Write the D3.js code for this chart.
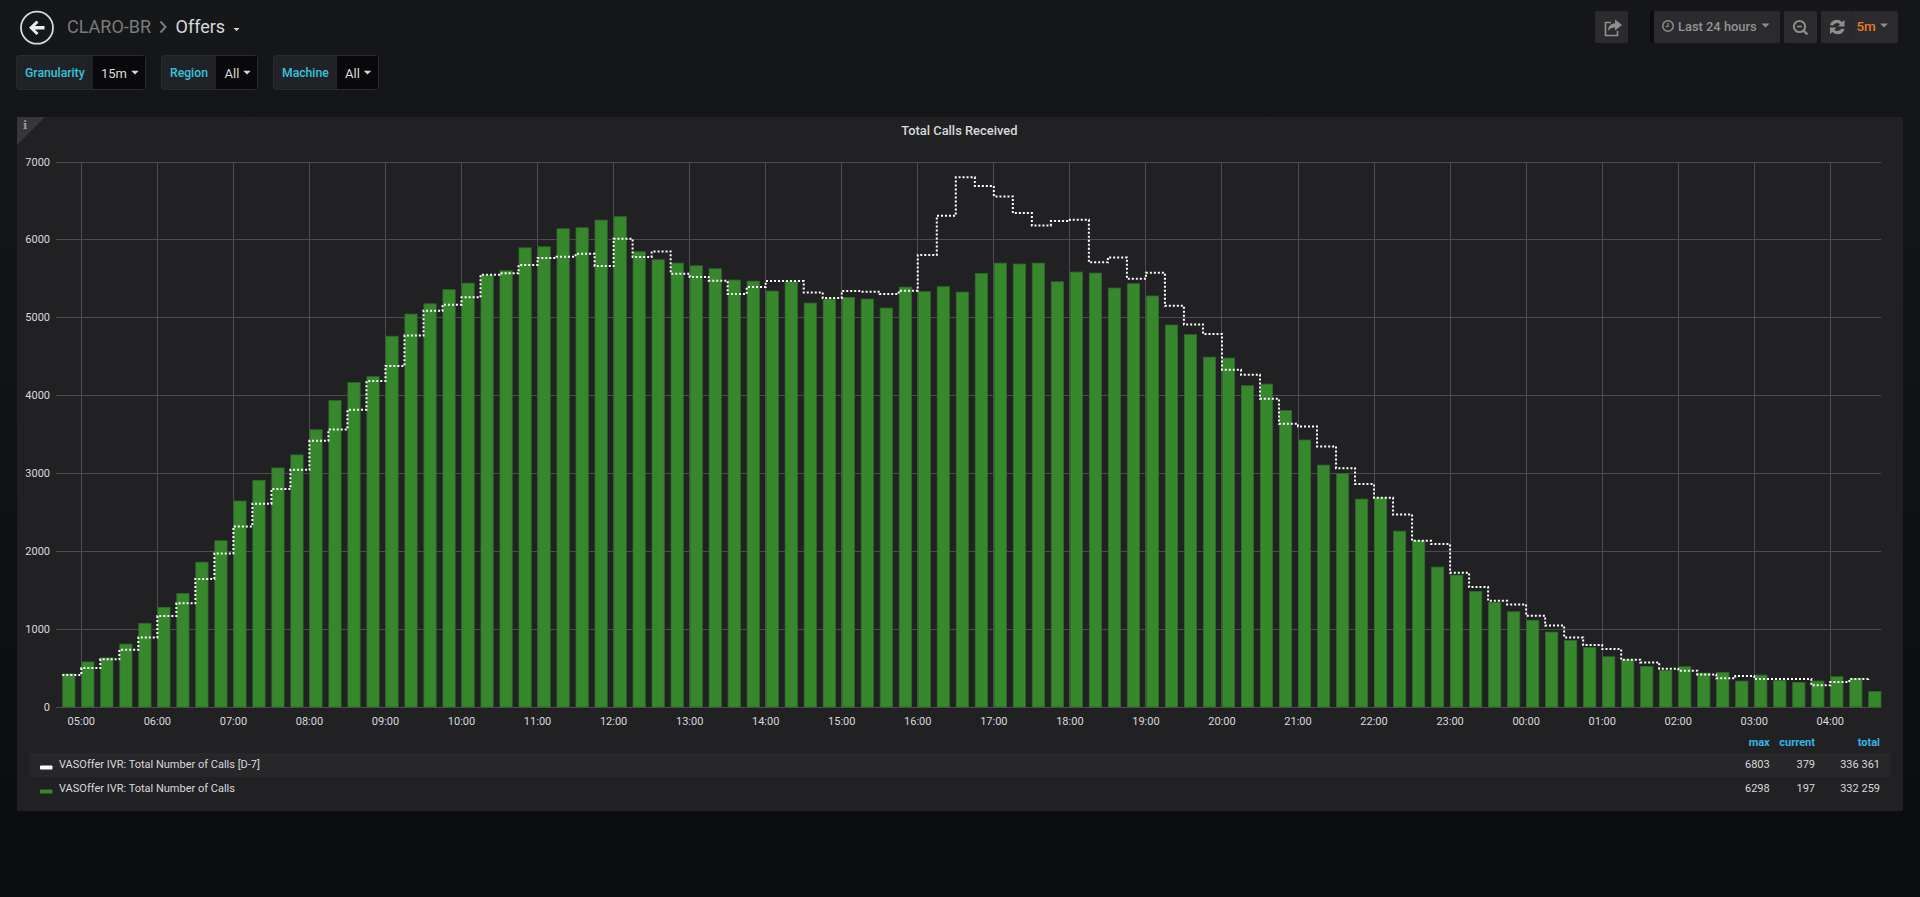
<!DOCTYPE html>
<html><head><meta charset="utf-8">
<script src="https://cdn.jsdelivr.net/npm/d3@7/dist/d3.min.js"></script>
<style>
html,body{margin:0;padding:0;width:1920px;height:897px;overflow:hidden;background:#0b0c0e}
svg{display:block;font-family:Roboto,sans-serif}
</style></head><body><svg id="c" width="1920" height="897"></svg>
<script>
const startTime = "2018-01-01T04:45:00Z";
const stepMinutes = 15;
const callsToday = [425,579,631,808,1075,1280,1458,1860,2135,2645,2911,3070,3238,3561,3935,4168,4243,4762,5047,5178,5360,5444,5547,5603,5897,5911,6142,6155,6254,6298,5847,5744,5701,5667,5629,5483,5470,5342,5462,5188,5240,5261,5240,5124,5393,5334,5398,5329,5569,5701,5689,5701,5462,5586,5573,5381,5437,5279,4906,4782,4493,4481,4126,4147,3807,3429,3107,3000,2670,2687,2259,2140,1797,1694,1485,1344,1223,1114,962,855,763,645,607,521,470,517,436,444,333,410,342,316,333,389,368,197];
const callsD7 = [411,500,612,734,893,1168,1332,1645,1972,2318,2612,2799,3047,3421,3565,3818,4187,4379,4771,5089,5168,5262,5552,5570,5678,5767,5783,5821,5663,6014,5779,5851,5565,5522,5475,5304,5393,5470,5470,5325,5253,5342,5334,5304,5347,5805,6309,6803,6691,6558,6344,6185,6241,6258,5711,5775,5501,5578,5154,4914,4790,4331,4267,3959,3638,3602,3347,3068,2863,2687,2473,2135,2092,1724,1540,1365,1318,1172,1046,894,797,744,607,573,491,466,419,368,397,359,359,359,278,320,359,379];
const yTicks = [0,1000,2000,3000,4000,5000,6000,7000];
const xTickLabels = ["05:00","06:00","07:00","08:00","09:00","10:00","11:00","12:00","13:00","14:00","15:00","16:00","17:00","18:00","19:00","20:00","21:00","22:00","23:00","00:00","01:00","02:00","03:00","04:00"];
const legendNames = ["VASOffer IVR: Total Number of Calls [D-7]","VASOffer IVR: Total Number of Calls"];
const legendColumns = ["max","current","total"];
const legendMax = ["6803","6298"];
const legendCurrent = ["379","197"];
const legendTotal = ["336 361","332 259"];
const variableLabels = ["Granularity","Region","Machine"];
const variableValues = ["15m","All","All"];

const svg = d3.select("#c");
const defs = svg.append("defs");
const bg = defs.append("linearGradient").attr("id","bg").attr("x1",0).attr("x2",0).attr("y1",0).attr("y2",1);
bg.append("stop").attr("offset","0").attr("stop-color","#161719");
bg.append("stop").attr("offset","1").attr("stop-color","#0b0c0e");
svg.append("rect").attr("width",1920).attr("height",897).attr("fill","url(#bg)");

function txt(g,x,y,s,o){o=o||{};return g.append("text").attr("x",x).attr("y",y).text(s)
 .attr("font-size",o.size||12).attr("fill",o.fill||"#d8d9da").attr("font-weight",o.weight||400)
 .attr("text-anchor",o.anchor||"start");}
function caret(g,cx,cy,w,c){g.append("path").attr("d",`M${cx-w/2},${cy-w/4}h${w}l${-w/2},${w/2}z`).attr("fill",c);}

/* top bar */
const header = svg.append("g");
header.append("circle").attr("cx",37).attr("cy",27.7).attr("r",16).attr("fill","none").attr("stroke","#d8d9da").attr("stroke-width",1.8);
header.append("path").attr("d","M29,27.7 L36.5,20.5 L38.5,22.6 L35,26 L44.5,26 L44.5,29.5 L35,29.5 L38.5,33 L36.5,35 Z").attr("fill","#e9edf2");
txt(header,67,32.7,"CLARO-BR",{size:18,fill:"#7b7b7b"});
header.append("path").attr("d","M160.5,21.5 L165.5,27 L160.5,32.5").attr("fill","none").attr("stroke","#7b7b7b").attr("stroke-width",2);
txt(header,175.5,32.7,"Offers",{size:18,fill:"#d8d9da"});
caret(header,236.5,29.5,6,"#d8d9da");

/* variable boxes */
const varBoxes=[[16,93,146,25,101,135],[161,216,258,170,224.5,247],[273,337,379,282,345,367.5]];
variableLabels.forEach((lab,i)=>{
 const b=varBoxes[i],g=svg.append("g");
 g.append("rect").attr("x",b[0]+.5).attr("y",55.5).attr("width",b[2]-b[0]-1).attr("height",34).attr("rx",3).attr("fill","#212227").attr("stroke","#2a2b2e");
 g.append("rect").attr("x",b[1]).attr("y",56).attr("width",b[2]-b[1]-1).attr("height",33).attr("fill","#09090b");
 txt(g,b[3],77,lab,{size:12.2,fill:"#33c5dc",weight:500});
 txt(g,b[4],78,variableValues[i],{size:13,fill:"#d8d9da"});
 caret(g,b[5],72.5,7.5,"#d8d9da");
});

/* top right buttons */
const tr=svg.append("g");
function btn(x,w){tr.append("rect").attr("x",x).attr("y",11).attr("width",w).attr("height",32).attr("rx",2).attr("fill","#2b2b2e");}
btn(1595,33);btn(1654,126);btn(1784,33);btn(1821,77);
tr.append("rect").attr("x",1650).attr("y",11).attr("width",4).attr("height",32).attr("fill","#0b0c0e");
tr.append("rect").attr("x",1851).attr("y",11).attr("width",1).attr("height",32).attr("fill","#242427");
const ic="#8e8e8e";
tr.append("path").attr("d","M1611,22.5 H1605.5 V35.5 H1617.5 V31").attr("fill","none").attr("stroke",ic).attr("stroke-width",1.7);
tr.append("path").attr("d","M1608,31 C1608,25 1612,23.5 1615,23.5 V19.5 L1622,25 L1615,30.5 V27.5 C1612,27.5 1610,28 1608,31 Z").attr("fill",ic);
tr.append("circle").attr("cx",1668).attr("cy",26).attr("r",5.2).attr("fill","none").attr("stroke",ic).attr("stroke-width",1.5);
tr.append("path").attr("d","M1668,23 V26.5 H1665.5").attr("fill","none").attr("stroke",ic).attr("stroke-width",1.2);
txt(tr,1678,31,"Last 24 hours",{size:12.9,fill:"#939393",weight:500});
caret(tr,1765.5,25.5,8,"#8e8e8e");
tr.append("circle").attr("cx",1799.5).attr("cy",26.5).attr("r",5.6).attr("fill","none").attr("stroke",ic).attr("stroke-width",2);
tr.append("path").attr("d","M1803.5,30.5 L1807.5,34.5").attr("stroke",ic).attr("stroke-width",2.4);
tr.append("path").attr("d","M1797,26.5 H1802").attr("stroke",ic).attr("stroke-width",1.6);
tr.append("path").attr("d","M1830,25 A7,7 0 0 1 1842,22 L1844.5,20 V26.5 H1838 L1840,24.3 A4.5,4.5 0 0 0 1833,25.5 Z M1844.5,29 A7,7 0 0 1 1832.5,32 L1830,34 V27.5 H1836.5 L1834.5,29.7 A4.5,4.5 0 0 0 1841.5,28.5 Z").attr("fill",ic);
txt(tr,1856.5,31,"5m",{size:13.4,fill:"#eb7b18",weight:500});
caret(tr,1884,25.5,8,"#8e8e8e");

/* panel */
const panel=svg.append("g");
panel.append("rect").attr("x",17).attr("y",117).attr("width",1886).attr("height",694).attr("rx",2).attr("fill","#212124");
panel.append("path").attr("d","M17,117 H45 L17,145 Z").attr("fill","#36363b");
txt(panel,23,129,"i",{size:11,fill:"#9a9a9a",weight:700}).attr("font-family","'DejaVu Serif',serif");
txt(panel,959.3,135,"Total Calls Received",{size:12.9,weight:500,anchor:"middle",fill:"#d8d9da"});

/* scales */
const t0=new Date(startTime);
const times=callsToday.map((_,i)=>d3.utcMinute.offset(t0,i*stepMinutes));
const barSpan=10; // bars fill two thirds of each slot
const x=d3.scaleUtc().domain([t0,d3.utcMinute.offset(t0,(callsToday.length-1)*stepMinutes+barSpan)]).range([62.3,1881]);
const y=d3.scaleLinear().domain([0,7000]).range([707,162]);
const plot=svg.append("g");

/* grid + axes */
const tickDates=xTickLabels.map((_,i)=>d3.utcHour.offset(new Date("2018-01-01T05:00:00Z"),i));
const gx=plot.append("g").attr("transform","translate(0,707)")
 .call(d3.axisBottom(x).offset(0).tickValues(tickDates).tickFormat((d,i)=>xTickLabels[i]).tickSize(-(707-162)).tickPadding(10));
const gy=plot.append("g").attr("transform","translate(56,0)")
 .call(d3.axisLeft(y).offset(0).tickValues(yTicks).tickFormat(d3.format("d")).tickSize(-(1881-56)).tickPadding(6));
[gx,gy].forEach(g=>{g.select(".domain").remove();
 g.selectAll(".tick line").attr("stroke","#4c4c4f").attr("stroke-width",1).attr("shape-rendering","crispEdges");
 g.selectAll("text").attr("fill","#d8d9da").attr("font-size",11).attr("font-family","Roboto,sans-serif");});

/* bars */
plot.append("g").selectAll("rect").data(callsToday).join("rect")
 .attr("x",(d,i)=>x(times[i])+.4)
 .attr("width",(d,i)=>x(d3.utcMinute.offset(times[i],barSpan))-x(times[i])-.4)
 .attr("y",d=>y(d)).attr("height",d=>y(0)-y(d))
 .attr("fill","#37872d").attr("stroke","#2f6a2a").attr("stroke-width",.8);

/* D-7 stepped dotted line */
const line=d3.line().x((d,i)=>x(times[i])).y(d=>y(d)).curve(d3.curveStepAfter);
plot.append("path").datum(callsD7).attr("d",line).attr("fill","none")
 .attr("stroke","#ffffff").attr("stroke-width",2).attr("stroke-dasharray","2 2");

/* legend */
const lg=svg.append("g");
lg.append("rect").attr("x",30).attr("y",753).attr("width",1860).attr("height",24).attr("fill","#27272a");
const colRight=[1769.7,1815,1880];
legendColumns.forEach((c,i)=>txt(lg,colRight[i],746,c,{size:11,fill:"#33b5e5",weight:700,anchor:"end"}));
const swatch=["#ffffff","#37872d"];
legendNames.forEach((n,i)=>{
 const yy=767.7+i*24;
 lg.append("rect").attr("x",40).attr("y",yy-2.2).attr("width",12.5).attr("height",4).attr("rx",1).attr("fill",swatch[i]);
 txt(lg,59,yy,n,{size:11});
 txt(lg,colRight[0],yy,legendMax[i],{size:11,anchor:"end"});
 txt(lg,colRight[1],yy,legendCurrent[i],{size:11,anchor:"end"});
 txt(lg,colRight[2],yy,legendTotal[i],{size:11,anchor:"end"});
});
</script></body></html>
